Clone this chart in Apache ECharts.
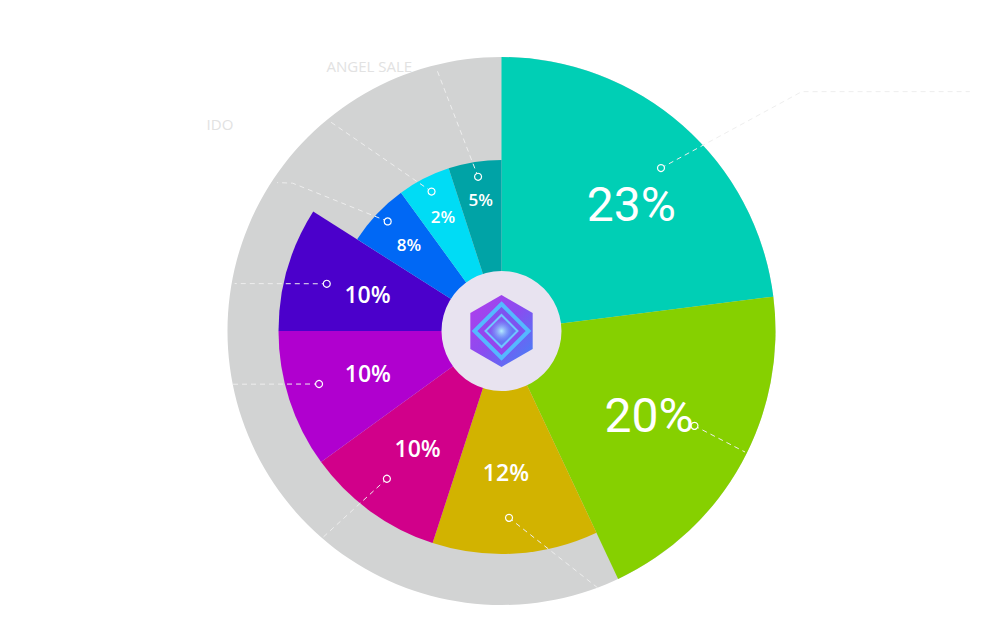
<!DOCTYPE html>
<html><head><meta charset="utf-8">
<script src="https://cdn.jsdelivr.net/npm/echarts@6/dist/echarts.min.js"></script>
<style>html,body{margin:0;padding:0;background:#fff}#c{width:986px;height:640px}</style>
</head><body><div id="c"></div>
<script>
// ---- data ----
const pctLabels  = ['23%', '20%', '12%', '10%', '10%', '10%', '8%', '2%', '5%'];
const sliceShare = [23, 20, 12, 10, 10, 9, 6, 5, 5];          // angular share of each slice
const outerNames = ['', '', '', '', '', '', 'IDO', 'ANGEL SALE', ''];

// ---- styles / layout ----
const sliceColors = ['#00CFB5', '#86D000', '#D2B300', '#D1008A', '#B000CF', '#4B00CB', '#0068F5', '#00DCF5', '#00A3A6'];
const CX = 501.5, CY = 331, R_BG = 274, R_HOLE = 60, R_POLAR = 700;
const sliceRadius  = [274, 274, 223, 223, 223, 223, 171, 171, 171];
const labelRadius  = [181, 170, 141, 144, 140, 139, 127, 129, 133];
const labelShift   = [1.22, 0.28, 0.5, -0.1, 0.2, -0.2, 0, 0, 0];
const labelFont    = [48, 48, 23, 23, 23, 23, 17, 17, 17];
const labelWeight  = [400, 400, 600, 600, 600, 600, 600, 600, 600];
const labelFamily  = ['Roboto', 'Roboto', 'Open Sans', 'Open Sans', 'Open Sans', 'Open Sans', 'Open Sans', 'Open Sans', 'Open Sans'];
const markerRadius = [228, 215, 187, 187, 190, 181, 158, 156, 156];
const markerShift  = [0.83, -0.73, 0.36, 0.5, 0.5, -0.3, 0.2, 0.1, 0.1];
const leaderPaths = [
  [[384, 14.29], [526, 17.48]],
  [[272, 32.34]],
  [[275, 44.27]],
  [[274, 61.36]],
  [[275, 71.9]],
  [[271, 77.8]],
  [[256, 84.8], [269, 84.3]],
  [[272, 89.06]],
  [[269, 96.14]]
];
const nameRadius = [0, 0, 0, 0, 0, 0, 349.4, 296.1, 0];
const nameShift  = [0, 0, 0, 0, 0, 0, -1.91, 0.14, 0];

// mid angle (in share units) of each slice, from the data
const total = sliceShare.reduce((a, b) => a + b, 0);
const mids = [];
let acc = 0;
sliceShare.forEach(v => { mids.push((acc + v / 2) / total * 100); acc += v; });

const series = [];
// grey background disc
series.push({
  type: 'pie', center: [CX, CY], radius: [0, R_BG], silent: true, z: 1,
  label: { show: false }, labelLine: { show: false }, emphasis: { disabled: true },
  data: [{ value: 1, itemStyle: { color: '#D2D3D3' } }]
});
// slices, one pie layer per outer radius
[...new Set(sliceRadius)].forEach(R => {
  series.push({
    type: 'pie', center: [CX, CY], radius: [0, R], startAngle: 90, clockwise: true,
    silent: true, z: 2, avoidLabelOverlap: false,
    label: { show: false }, labelLine: { show: false }, emphasis: { disabled: true },
    data: sliceShare.map((v, i) => ({
      value: v, name: pctLabels[i],
      itemStyle: { color: sliceRadius[i] === R ? sliceColors[i] : 'rgba(0,0,0,0)', borderWidth: 0 }
    }))
  });
});
// centre disc
series.push({
  type: 'pie', center: [CX, CY], radius: [0, R_HOLE], silent: true, z: 3,
  label: { show: false }, labelLine: { show: false }, emphasis: { disabled: true },
  data: [{ value: 1, itemStyle: { color: '#E8E3F0' } }]
});
// leader lines
leaderPaths.forEach((path, i) => {
  const start = [markerRadius[i], mids[i] + markerShift[i]];
  series.push({
    type: 'line', coordinateSystem: 'polar', z: 4, silent: true, clip: false,
    symbol: 'none', showSymbol: false,
    lineStyle: { color: '#EEEEEE', width: 1, type: [5, 4] },
    data: [start].concat(path)
  });
});
// markers
series.push({
  type: 'scatter', coordinateSystem: 'polar', z: 5, silent: true, clip: false,
  symbol: 'circle', symbolSize: 7,
  itemStyle: { opacity: 1 },
  data: sliceShare.map((v, i) => ({
    value: [markerRadius[i], mids[i] + markerShift[i]],
    itemStyle: { color: sliceColors[i], borderColor: '#FFFFFF', borderWidth: 1.2, opacity: 1 }
  }))
});
// percent labels
series.push({
  type: 'scatter', coordinateSystem: 'polar', z: 6, silent: true, clip: false,
  symbolSize: 0, itemStyle: { opacity: 1 },
  data: sliceShare.map((v, i) => ({
    value: [labelRadius[i], mids[i] + labelShift[i]],
    label: {
      show: true, position: 'inside', formatter: pctLabels[i], color: '#FFFFFF',
      fontSize: labelFont[i], fontWeight: labelWeight[i], fontFamily: labelFamily[i]
    }
  }))
});
// outer names
series.push({
  type: 'scatter', coordinateSystem: 'polar', z: 6, silent: true, clip: false,
  symbolSize: 0, itemStyle: { opacity: 1 },
  data: outerNames.map((n, i) => ({ n, i })).filter(o => o.n).map(o => ({
    value: [nameRadius[o.i], mids[o.i] + nameShift[o.i]],
    label: {
      show: true, position: 'inside', formatter: o.n, color: '#E2E2E2',
      fontSize: 15, fontFamily: 'Open Sans'
    }
  }))
});

// logo (decoration)
const hexR = 36;
const hex = [];
for (let k = 0; k < 6; k++) {
  const a = (-90 + 60 * k) * Math.PI / 180;
  hex.push([CX + hexR * Math.cos(a), CY + hexR * Math.sin(a)]);
}
const diamond = (h) => [[CX, CY - h], [CX + h, CY], [CX, CY + h], [CX - h, CY]];
const G = echarts.graphic;
const graphic = [
  { type: 'polygon', z: 100, silent: true, shape: { points: hex },
    style: { fill: new G.LinearGradient(0, 0, 1, 1, [{ offset: 0, color: '#B43CEB' }, { offset: 0.5, color: '#8A4CF0' }, { offset: 1, color: '#3E86F7' }]) } },
  { type: 'polygon', z: 101, silent: true, shape: { points: diamond(27) },
    style: { fill: new G.LinearGradient(1, 0, 0, 1, [{ offset: 0, color: '#6B5CF2' }, { offset: 1, color: '#A73CEB' }]), stroke: '#55B8FF', lineWidth: 4 } },
  { type: 'polygon', z: 102, silent: true, shape: { points: diamond(16) },
    style: { fill: new G.LinearGradient(0, 0, 1, 1, [{ offset: 0, color: '#9D44EE' }, { offset: 1, color: '#4A8CF7' }]), stroke: '#6FC6FF', lineWidth: 2 } },
  { type: 'circle', z: 103, silent: true, shape: { cx: CX, cy: CY, r: 11 },
    style: { fill: new G.RadialGradient(0.5, 0.5, 0.5, [{ offset: 0, color: '#B5EEFF' }, { offset: 1, color: 'rgba(110,170,255,0)' }]) } }
];

const chart = echarts.init(document.getElementById('c'), null, { renderer: 'svg' });
chart.setOption({
  animation: false,
  backgroundColor: '#FFFFFF',
  polar: { center: [CX, CY], radius: R_POLAR },
  angleAxis: { type: 'value', min: 0, max: 100, startAngle: 90, clockwise: true, show: false },
  radiusAxis: { type: 'value', min: 0, max: R_POLAR, show: false },
  series,
  graphic
});
</script></body></html>
